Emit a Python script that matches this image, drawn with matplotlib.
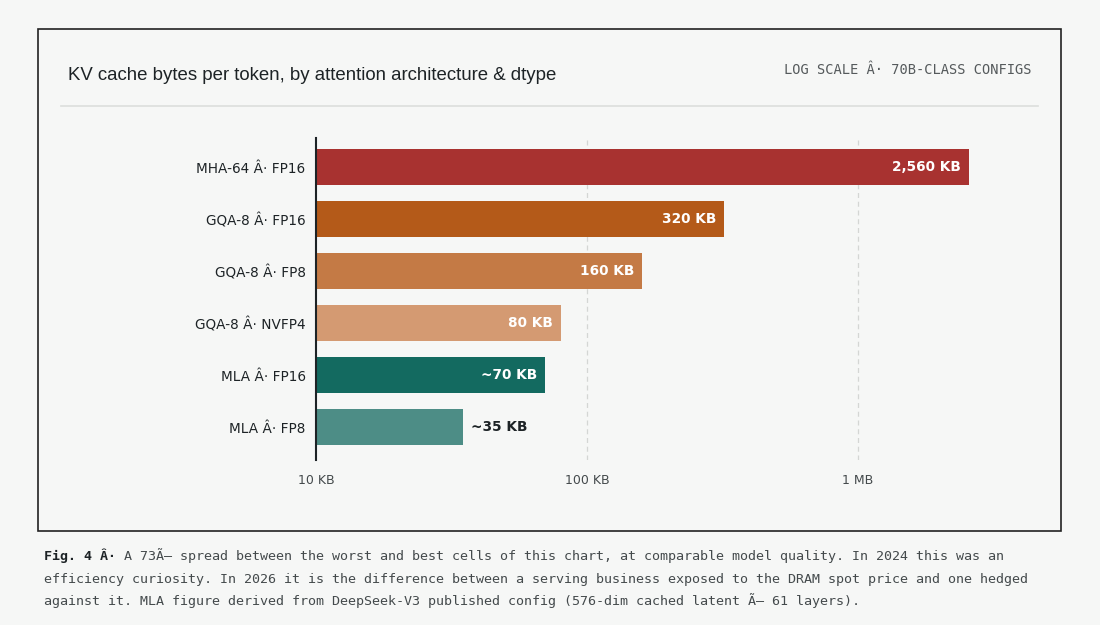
import matplotlib.pyplot as plt
from matplotlib.patches import Rectangle
from matplotlib.lines import Line2D
from matplotlib.ticker import FixedLocator

labels = ['MHA-64 Â· FP16', 'GQA-8 Â· FP16', 'GQA-8 Â· FP8', 'GQA-8 Â· NVFP4', 'MLA Â· FP16', 'MLA Â· FP8']
kb_values = [2560, 320, 160, 80, 70, 35]
value_text = ['2,560 KB', '320 KB', '160 KB', '80 KB', '~70 KB', '~35 KB']
bar_colors = ['#a83230', '#b45a19', '#c47a45', '#d49a72', '#136a60', '#4d8d86']
tick_vals = [10, 100, 1000]
tick_labels = ['10 KB', '100 KB', '1 MB']

bg = '#f6f7f6'
fig = plt.figure(figsize=(11, 6.25), dpi=100, facecolor=bg)

# outer frame
fig.patches.append(Rectangle((38/1100, 1-531/625), (1061-38)/1100, (531-29)/625,
                             transform=fig.transFigure, fill=False, edgecolor='#222222', lw=1.2))
# divider under title
fig.lines.append(Line2D([61/1100, 1038/1100], [1-106/625, 1-106/625],
                        transform=fig.transFigure, color='#dcdedc', lw=1.2))

fig.text(68/1100, 1-75/625, 'KV cache bytes per token, by attention architecture & dtype',
         family='Liberation Sans', fontsize=13.4, color='#1d2326', va='center', ha='left')
fig.text(1031/1100, 1-70/625, 'LOG SCALE Â· 70B-CLASS CONFIGS', family='DejaVu Sans Mono',
         fontsize=9.9, color='#555a5c', va='center', ha='right')

ax = fig.add_axes([316/1100, 1-460/625, (1035-316)/1100, (460-138)/625])
ax.set_facecolor(bg)
ax.set_xscale('log')
y = list(range(len(labels)))
ax.barh(y, kb_values, left=0.0001, height=0.7, color=bar_colors, zorder=3)
ax.set_xlim(10, 10 ** (1 + (1035-316)/271))
ax.set_ylim(5.63, -0.56)

for i, (v, t) in enumerate(zip(kb_values, value_text)):
    if i == len(kb_values) - 1:
        ax.text(v * 1.07, i, t, color='#1d2326', fontweight='bold', fontsize=9.8,
                va='center', ha='left', zorder=4)
    else:
        ax.text(v / 1.07, i, t, color='white', fontweight='bold', fontsize=9.8,
                va='center', ha='right', zorder=4)

ax.set_yticks(y)
ax.set_yticklabels(labels, fontsize=9.8, color='#1d2326')
ax.xaxis.set_major_locator(FixedLocator(tick_vals))
ax.xaxis.set_minor_locator(FixedLocator([]))
ax.set_xticklabels(tick_labels, fontsize=9, color='#444a4c')
ax.tick_params(axis='both', length=0)
ax.tick_params(axis='x', pad=10)
ax.tick_params(axis='y', pad=7.5)
for xv in tick_vals[1:]:
    ax.axvline(xv, color='#d4d6d4', lw=0.9, ls=(0, (4, 3)), zorder=1)
for s in ['top', 'right', 'bottom']:
    ax.spines[s].set_visible(False)
ax.spines['left'].set_color('#1d2326')
ax.spines['left'].set_linewidth(1.5)
ax.spines['left'].set_zorder(5)

caption = [
    ('Fig. 4 Â· ', 'A 73Ã\u2014 spread between the worst and best cells of this chart, at comparable model quality. In 2024 this was an'),
    ('', 'efficiency curiosity. In 2026 it is the difference between a serving business exposed to the DRAM spot price and one hedged'),
    ('', 'against it. MLA figure derived from DeepSeek-V3 published config (576-dim cached latent Ã\u2014 61 layers).'),
]
ys = [556, 579, 601]
for (bold, rest), yy in zip(caption, ys):
    x0 = 44/1100
    if bold:
        t = fig.text(x0, 1-yy/625, bold, family='DejaVu Sans Mono', fontweight='bold',
                     fontsize=9.6, color='#1d2326', va='center', ha='left')
        fig.canvas.draw()
        bb = t.get_window_extent()
        x0 = bb.x1 / 1100
    fig.text(x0, 1-yy/625, rest, family='DejaVu Sans Mono', fontsize=9.6,
             color='#444a4c', va='center', ha='left')

plt.savefig('out.png', dpi=100, facecolor=bg)
